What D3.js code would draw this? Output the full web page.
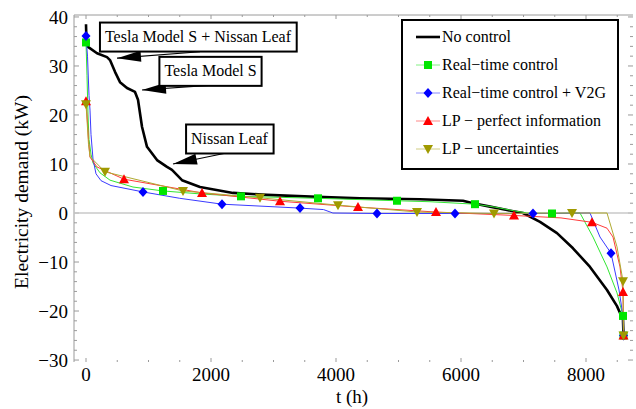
<!DOCTYPE html>
<html><head><meta charset="utf-8">
<script src="https://cdn.jsdelivr.net/npm/d3@7"></script>
<style>body{margin:0;background:#fff}svg{display:block}</style>
</head><body><svg id="c" width="636" height="409" font-family="'Liberation Serif', 'Times New Roman', serif"></svg>
<script>
// ---- data (t in hours, demand in kW) ----
const noControlT = [0, 8, 32, 176, 336, 384, 464, 544, 656, 784, 832, 896, 976, 1136, 1296, 1376, 1536, 1824, 2352, 2896, 3696, 4384, 5344, 6032, 6192, 6464, 6736, 6992, 7264, 7536, 7792, 8064, 8336, 8496, 8592, 8600];
const noControlY = [38.5, 34.5, 33.9, 32.6, 31.8, 31.2, 28.8, 26.7, 25.5, 24.7, 23.1, 17.6, 13.5, 10.8, 9.4, 8.8, 6.7, 5.3, 4.1, 3.7, 3.3, 3.0, 2.8, 2.5, 2.0, 1.3, 0.6, 0, -1.8, -4.1, -7.2, -11, -15.7, -19, -21.8, -25];

const rtT = [0, 16, 32, 48, 80, 112, 224, 384, 752, 1232, 1824, 2480, 3712, 4976, 5504, 6224, 6544, 6864, 7056, 7456, 7904, 8112, 8336, 8496, 8592, 8600];
const rtY = [34.8, 28, 20, 15, 12, 10.2, 8.2, 6.7, 5.3, 4.5, 3.9, 3.4, 3.0, 2.5, 2.3, 1.8, 1.2, 0.4, 0, -0.1, 0, -4.9, -11, -16.3, -21, -25];
const rtMarks = [0, 1232, 2480, 3712, 4976, 6224, 7456, 8592, 8600];

const v2gT = [0, 24, 48, 64, 80, 112, 160, 240, 400, 912, 1500, 2176, 3424, 3800, 3950, 4656, 5904, 7152, 8064, 8224, 8400, 8528, 8592, 8600];
const v2gY = [36.1, 32, 24, 21, 16, 11, 8, 6.6, 5.6, 4.3, 3.0, 1.8, 1.0, 0.7, 0, -0.1, -0.1, -0.1, 0, -4.9, -8.2, -15.7, -21, -25];
const v2gMarks = [0, 912, 2176, 3424, 4656, 5904, 7152, 8400, 8600];

const lpT = [0, 16, 40, 64, 176, 608, 1856, 3104, 4352, 5600, 6848, 7600, 8096, 8336, 8432, 8544, 8592, 8600];
const lpY = [22.8, 20, 15, 11.4, 9.4, 6.9, 4.1, 2.4, 1.2, 0.2, -0.5, -1.0, -1.9, -3.1, -4.9, -11, -16.1, -25];
const lpMarks = [0, 608, 1856, 3104, 4352, 5600, 6848, 8096, 8592, 8600];

const lpuT = [0, 16, 40, 64, 304, 1552, 2784, 4032, 5296, 6528, 7776, 8336, 8496, 8592, 8600];
const lpuY = [22.2, 19, 14, 11.5, 8.4, 4.5, 3.1, 1.6, 0.2, -0.1, 0, 0, -6.9, -13.9, -25];
const lpuMarks = [0, 304, 1552, 2784, 4032, 5296, 6528, 7776, 8592, 8600];

const xTicks = [0, 2000, 4000, 6000, 8000];
const yTicks = [-30, -20, -10, 0, 10, 20, 30, 40];
const legendLabels = ["No control", "Real\u2212time control", "Real\u2212time control + V2G", "LP \u2212 perfect information", "LP \u2212 uncertainties"];
const annotationTexts = ["Tesla Model S + Nissan Leaf", "Tesla Model S", "Nissan Leaf"];
const annotationCenters = [[1792, 35.9], [1992, 28.9], [2296, 15.1]];
const annotationTails = [[1824, 32.9], [2016, 26.1], [2304, 12.4]];
const annotationTips = [[496, 31.6], [896, 25.1], [1392, 10.0]];

// ---- layout ----
const svg = d3.select("#c");
const L = 74, R = 633, T = 15, B = 362;
const x = d3.scaleLinear().domain([-192, 8752]).range([L, R]);
const y = d3.scaleLinear().domain([-30.4, 40.4]).range([B, T]);

const series = [
  {name: legendLabels[1], t: rtT, v: rtY, marks: rtMarks, color: "#00e600", line: "#33e633", shape: "square"},
  {name: legendLabels[2], t: v2gT, v: v2gY, marks: v2gMarks, color: "#0000ff", line: "#3a3aff", shape: "diamond"},
  {name: legendLabels[3], t: lpT, v: lpY, marks: lpMarks, color: "#ff0000", line: "#ff3a3a", shape: "up"},
  {name: legendLabels[4], t: lpuT, v: lpuY, marks: lpuMarks, color: "#a09a00", line: "#b0aa30", shape: "down"}
];

function shapePath(s){
  if (s === "square") return "M-4,-4H4V4H-4Z";
  if (s === "diamond") return "M0,-5L4.5,0L0,5L-4.5,0Z";
  if (s === "up") return "M0,-5L5,4H-5Z";
  return "M0,5L5,-4H-5Z";
}

// frame
const gray = "#9a9a9a";
svg.append("line").attr("x1", L).attr("x2", L).attr("y1", T).attr("y2", B).attr("stroke", gray).attr("stroke-width", 1);
svg.append("line").attr("x1", L).attr("x2", R).attr("y1", T).attr("y2", T).attr("stroke", gray).attr("stroke-width", 1);

// ticks
const xMinor = d3.range(0, 8751, 500);
xMinor.forEach(v => {
  const major = v % 2000 === 0, len = major ? 4 : 2;
  svg.append("line").attr("x1", x(v)).attr("x2", x(v)).attr("y1", B).attr("y2", B - len).attr("stroke", gray);
  svg.append("line").attr("x1", x(v)).attr("x2", x(v)).attr("y1", T).attr("y2", T + len).attr("stroke", gray);
});
const yMinor = d3.range(-30, 41, 2);
yMinor.forEach(v => {
  const major = v % 10 === 0, len = major ? 5 : 3;
  svg.append("line").attr("x1", L).attr("x2", L + len).attr("y1", y(v)).attr("y2", y(v)).attr("stroke", gray);
  svg.append("line").attr("x1", R).attr("x2", R - len).attr("y1", y(v)).attr("y2", y(v)).attr("stroke", gray);
});
svg.selectAll(".xl").data(xTicks).enter().append("text")
  .attr("x", d => x(d)).attr("y", 381).attr("text-anchor", "middle").attr("font-size", 19).text(d => d);
svg.selectAll(".yl").data(yTicks).enter().append("text")
  .attr("x", 68).attr("y", d => y(d)).attr("dy", "0.35em").attr("text-anchor", "end").attr("font-size", 19)
  .text(d => d < 0 ? "\u2212" + Math.abs(d) : d);

svg.append("text").attr("x", 352).attr("y", 403).attr("text-anchor", "middle").attr("font-size", 19).text("t (h)");
svg.append("text").attr("transform", "translate(28,192) rotate(-90)").attr("text-anchor", "middle").attr("font-size", 19.5).text("Electricity demand (kW)");

// zero line
svg.append("line").attr("x1", L).attr("x2", R).attr("y1", y(0)).attr("y2", y(0)).attr("stroke", "#c8c8c8").attr("stroke-width", 1.5);

// lines
const lineGen = d3.line().x(d => x(d[0])).y(d => y(d[1]));
svg.append("path").datum(noControlT.map((t, i) => [t, noControlY[i]]))
  .attr("d", lineGen).attr("fill", "none").attr("stroke", "#000").attr("stroke-width", 2.6).attr("stroke-linejoin", "round");
series.forEach(s => {
  svg.append("path").datum(s.t.map((t, i) => [t, s.v[i]]))
    .attr("d", lineGen).attr("fill", "none").attr("stroke", s.line).attr("stroke-width", 1);
});
series.forEach(s => {
  const pts = s.t.map((t, i) => [t, s.v[i]]).filter(p => s.marks.includes(p[0]));
  svg.append("g").selectAll("path").data(pts).enter().append("path")
    .attr("transform", d => `translate(${x(d[0])},${y(d[1])})`)
    .attr("d", shapePath(s.shape)).attr("fill", s.color);
});

// annotations
const fs = 16;
annotationTexts.forEach((txt, i) => {
  const [tx, ty] = annotationTails[i], [px, py] = annotationTips[i];
  const x1 = x(tx), y1 = y(ty), x2 = x(px), y2 = y(py);
  svg.append("line").attr("x1", x1).attr("y1", y1).attr("x2", x2).attr("y2", y2).attr("stroke", "#000").attr("stroke-width", 1.2);
  const ang = Math.atan2(y2 - y1, x2 - x1), hl = 24, hw = 5.5;
  const bx = x2 - hl * Math.cos(ang), by = y2 - hl * Math.sin(ang);
  const nx = -Math.sin(ang), ny = Math.cos(ang);
  svg.append("path").attr("d", `M${x2},${y2}L${bx + nx * hw},${by + ny * hw}L${bx - nx * hw},${by - ny * hw}Z`).attr("fill", "#000");
  const g = svg.append("g");
  const t = g.append("text").attr("x", x(annotationCenters[i][0])).attr("y", y(annotationCenters[i][1])).attr("dy", "0.32em")
    .attr("text-anchor", "middle").attr("font-size", fs).text(txt);
  const bb = t.node().getBBox();
  g.insert("rect", "text").attr("x", bb.x - 5).attr("y", y(annotationCenters[i][1]) - 14.5).attr("width", bb.width + 10).attr("height", 29)
    .attr("fill", "#fff").attr("stroke", "#000").attr("stroke-width", 2);
});

// legend
const lg = svg.append("g");
lg.append("rect").attr("x", 402).attr("y", 20).attr("width", 216).attr("height", 149).attr("fill", "#fff").attr("stroke", "#000").attr("stroke-width", 2);
const entries = [{name: legendLabels[0], color: "#000", line: "#000", shape: null}].concat(series);
entries.forEach((e, i) => {
  const yy = 37 + i * 28;
  lg.append("line").attr("x1", 416).attr("x2", 440).attr("y1", yy).attr("y2", yy)
    .attr("stroke", e.shape ? e.line : "#000").attr("stroke-width", e.shape ? 1 : 2.6).attr("stroke-opacity", e.shape ? 0.6 : 1);
  if (e.shape) lg.append("path").attr("transform", `translate(428,${yy})`).attr("d", shapePath(e.shape)).attr("fill", e.color);
  lg.append("text").attr("x", 442).attr("y", yy).attr("dy", "0.32em").attr("font-size", 16).text(e.name);
});
</script></body></html>
